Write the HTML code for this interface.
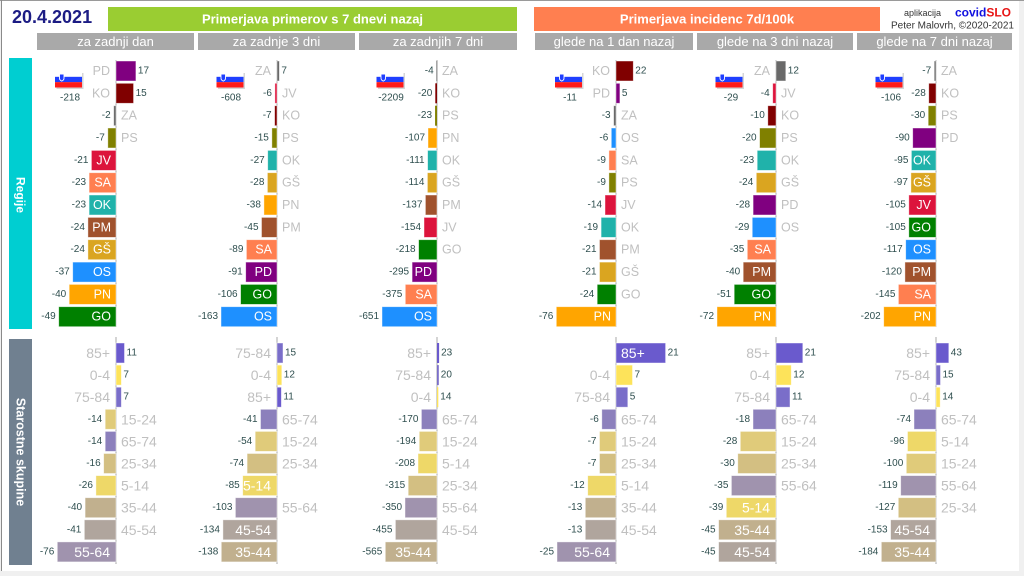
<!DOCTYPE html>
<html><head><meta charset="utf-8"><style>
html,body{margin:0;padding:0;background:#fff;}
svg{display:block;}
text{font-family:"Liberation Sans",sans-serif;dominant-baseline:central;}
.g{font-size:12.5px;fill:#c0c0c0}
.w{font-size:12.5px;fill:#fff}
.ga{font-size:14px;fill:#c0c0c0}
.wa{font-size:14px;fill:#fff}
.v{font-size:10px;fill:#2f4f4f}
.e{text-anchor:end}
.m{text-anchor:middle}
.h{font-size:13px;fill:#fff}
rect.b{stroke:#fff;stroke-opacity:.55;stroke-width:.8}
.ax{stroke:#aaa;stroke-width:1}
</style></head><body>
<svg width="1024" height="576" viewBox="0 0 1024 576" xmlns="http://www.w3.org/2000/svg">
<defs>
<g id="fl">
<rect x="1.5" y="1.5" width="27" height="16" fill="#bbb" opacity=".6"/>
<rect width="27" height="5.4" fill="#fff"/>
<rect y="5.33" width="27" height="5.34" fill="#1f3fff"/>
<rect y="10.67" width="27" height="5.33" fill="#ff1a1a"/>
<path d="M4.5 2.5h4.5v4.3q0 1.9-2.25 2.8q-2.25-0.9-2.25-2.8z" fill="#1f3fff" stroke="#fff" stroke-width=".9"/>
</g>
</defs>
<!-- frame -->
<rect width="1024" height="576" fill="#f0f0f0"/>
<rect x="2" y="1" width="1017" height="570" fill="#fff"/>
<line x1="0" y1="0.5" x2="1024" y2="0.5" stroke="#9a9a9a"/>
<line x1="1.5" y1="0" x2="1.5" y2="571" stroke="#8a8a8a"/>

<!-- header -->
<text x="12" y="17" style="font-size:18px;font-weight:bold;fill:#1c1c84">20.4.2021</text>
<rect x="108" y="7" width="409" height="24" fill="#9acd32"/>
<text class="h m" x="312.5" y="19" style="font-weight:bold">Primerjava primerov s 7 dnevi nazaj</text>
<rect x="534" y="7" width="346" height="24" fill="#ff7f50"/>
<text class="h m" x="707" y="19" style="font-weight:bold">Primerjava incidenc 7d/100k</text>
<text x="941" y="13" class="e" style="font-size:9px;fill:#333">aplikacija</text>
<text x="955" y="12.5" style="font-size:12px;font-weight:bold"><tspan fill="#1010e0">covid</tspan><tspan fill="#e81515">SLO</tspan></text>
<text x="1014" y="26" class="e" style="font-size:10px;fill:#333">Peter Malovrh, ©2020-2021</text>

<rect x="37" y="33" width="157" height="17" fill="#a9a9a9"/>
<text class="h m" x="115.5" y="41.5">za zadnji dan</text>
<rect x="198" y="33" width="157" height="17" fill="#a9a9a9"/>
<text class="h m" x="276.5" y="41.5">za zadnje 3 dni</text>
<rect x="359" y="33" width="158" height="17" fill="#a9a9a9"/>
<text class="h m" x="438" y="41.5">za zadnjih 7 dni</text>
<rect x="535" y="33" width="158" height="17" fill="#a9a9a9"/>
<text class="h m" x="614" y="41.5">glede na 1 dan nazaj</text>
<rect x="697" y="33" width="156" height="17" fill="#a9a9a9"/>
<text class="h m" x="775" y="41.5">glede na 3 dni nazaj</text>
<rect x="857" y="33" width="155" height="17" fill="#a9a9a9"/>
<text class="h m" x="934.5" y="41.5">glede na 7 dni nazaj</text>

<!-- side labels -->
<rect x="9" y="58" width="23" height="271" fill="#00ced1"/>
<text class="m" transform="translate(20.5,195) rotate(90)" style="font-size:12px;font-weight:bold;fill:#fff">Regije</text>
<rect x="9" y="339" width="23" height="226" fill="#708090"/>
<text class="m" transform="translate(20.5,452) rotate(90)" style="font-size:12.5px;font-weight:bold;fill:#fff">Starostne skupine</text>

<!-- axes -->
<line class="ax" x1="116" y1="60" x2="116" y2="327"/>
<line class="ax" x1="277" y1="60" x2="277" y2="327"/>
<line class="ax" x1="437" y1="60" x2="437" y2="327"/>
<line class="ax" x1="616" y1="60" x2="616" y2="327"/>
<line class="ax" x1="776" y1="60" x2="776" y2="327"/>
<line class="ax" x1="936" y1="60" x2="936" y2="327"/>
<line class="ax" x1="116" y1="337" x2="116" y2="564"/>
<line class="ax" x1="277" y1="337" x2="277" y2="564"/>
<line class="ax" x1="437" y1="337" x2="437" y2="564"/>
<line class="ax" x1="616" y1="337" x2="616" y2="564"/>
<line class="ax" x1="776" y1="337" x2="776" y2="564"/>
<line class="ax" x1="936" y1="337" x2="936" y2="564"/>

<!-- flags -->
<use href="#fl" x="55" y="71.5"/><text class="v m" x="70" y="98">-218</text>
<use href="#fl" x="216.5" y="71.5"/><text class="v m" x="231" y="98">-608</text>
<use href="#fl" x="376.5" y="71.5"/><text class="v m" x="391" y="98">-2209</text>
<use href="#fl" x="555" y="71.5"/><text class="v m" x="570" y="98">-11</text>
<use href="#fl" x="715.5" y="71.5"/><text class="v m" x="731" y="98">-29</text>
<use href="#fl" x="875.5" y="71.5"/><text class="v m" x="891" y="98">-106</text>

<!-- P1 regions -->
<rect class="b" x="116" y="61" width="19.9" height="20" fill="#800080"/><text class="g e" x="110" y="71">PD</text><text class="v" x="137.9" y="71">17</text>
<rect class="b" x="116" y="83.3" width="17.55" height="20" fill="#800000"/><text class="g e" x="110" y="93.3">KO</text><text class="v" x="135.6" y="93.3">15</text>
<rect class="b" x="113.66" y="105.7" width="2.34" height="20" fill="#696969"/><text class="g" x="121" y="115.7">ZA</text><text class="v e" x="110.7" y="115.7">-2</text>
<rect class="b" x="107.8" y="128" width="8.2" height="20" fill="#808000"/><text class="g" x="121" y="138">PS</text><text class="v e" x="104.8" y="138">-7</text>
<rect class="b" x="91.4" y="150.4" width="24.6" height="20" fill="#dc143c"/><text class="w e" x="111" y="160.4">JV</text><text class="v e" x="88.4" y="160.4">-21</text>
<rect class="b" x="89.1" y="172.7" width="26.9" height="20" fill="#ff7f50"/><text class="w e" x="111" y="182.7">SA</text><text class="v e" x="86.1" y="182.7">-23</text>
<rect class="b" x="89.1" y="195" width="26.9" height="20" fill="#20b2aa"/><text class="w e" x="111" y="205">OK</text><text class="v e" x="86.1" y="205">-23</text>
<rect class="b" x="87.9" y="217.4" width="28.1" height="20" fill="#a0522d"/><text class="w e" x="111" y="227.4">PM</text><text class="v e" x="84.9" y="227.4">-24</text>
<rect class="b" x="87.9" y="239.7" width="28.1" height="20" fill="#daa520"/><text class="w e" x="111" y="249.7">GŠ</text><text class="v e" x="84.9" y="249.7">-24</text>
<rect class="b" x="72.7" y="262.1" width="43.3" height="20" fill="#1e90ff"/><text class="w e" x="111" y="272.1">OS</text><text class="v e" x="69.7" y="272.1">-37</text>
<rect class="b" x="69.2" y="284.4" width="46.8" height="20" fill="#ffa500"/><text class="w e" x="111" y="294.4">PN</text><text class="v e" x="66.2" y="294.4">-40</text>
<rect class="b" x="58.7" y="306.7" width="57.3" height="20" fill="#008000"/><text class="w e" x="111" y="316.7">GO</text><text class="v e" x="55.7" y="316.7">-49</text>

<!-- P2 regions -->
<rect class="b" x="277" y="61" width="2.4" height="20" fill="#696969"/><text class="g e" x="271" y="71">ZA</text><text class="v" x="281.4" y="71">7</text>
<rect class="b" x="274.9" y="83.3" width="2.1" height="20" fill="#dc143c"/><text class="g" x="282" y="93.3">JV</text><text class="v e" x="271.9" y="93.3">-6</text>
<rect class="b" x="274.6" y="105.7" width="2.4" height="20" fill="#800000"/><text class="g" x="282" y="115.7">KO</text><text class="v e" x="271.6" y="115.7">-7</text>
<rect class="b" x="271.85" y="128" width="5.15" height="20" fill="#808000"/><text class="g" x="282" y="138">PS</text><text class="v e" x="268.85" y="138">-15</text>
<rect class="b" x="267.7" y="150.4" width="9.3" height="20" fill="#20b2aa"/><text class="g" x="282" y="160.4">OK</text><text class="v e" x="264.7" y="160.4">-27</text>
<rect class="b" x="267.4" y="172.7" width="9.6" height="20" fill="#daa520"/><text class="g" x="282" y="182.7">GŠ</text><text class="v e" x="264.4" y="182.7">-28</text>
<rect class="b" x="263.9" y="195" width="13.1" height="20" fill="#ffa500"/><text class="g" x="282" y="205">PN</text><text class="v e" x="260.9" y="205">-38</text>
<rect class="b" x="261.5" y="217.4" width="15.5" height="20" fill="#a0522d"/><text class="g" x="282" y="227.4">PM</text><text class="v e" x="258.5" y="227.4">-45</text>
<rect class="b" x="246.4" y="239.7" width="30.6" height="20" fill="#ff7f50"/><text class="w e" x="272" y="249.7">SA</text><text class="v e" x="243.4" y="249.7">-89</text>
<rect class="b" x="245.7" y="262.1" width="31.3" height="20" fill="#800080"/><text class="w e" x="272" y="272.1">PD</text><text class="v e" x="242.7" y="272.1">-91</text>
<rect class="b" x="240.6" y="284.4" width="36.4" height="20" fill="#008000"/><text class="w e" x="272" y="294.4">GO</text><text class="v e" x="237.6" y="294.4">-106</text>
<rect class="b" x="221" y="306.7" width="56" height="20" fill="#1e90ff"/><text class="w e" x="272" y="316.7">OS</text><text class="v e" x="218" y="316.7">-163</text>

<!-- P3 regions -->
<rect x="436.4" y="61" width="0.8" height="20" fill="#696969"/><text class="g" x="442" y="71">ZA</text><text class="v e" x="433.7" y="71">-4</text>
<rect x="435.3" y="83.3" width="1.7" height="20" fill="#800000"/><text class="g" x="442" y="93.3">KO</text><text class="v e" x="432.3" y="93.3">-20</text>
<rect x="435.06" y="105.7" width="1.94" height="20" fill="#808000"/><text class="g" x="442" y="115.7">PS</text><text class="v e" x="432" y="115.7">-23</text>
<rect class="b" x="428" y="128" width="9" height="20" fill="#ffa500"/><text class="g" x="442" y="138">PN</text><text class="v e" x="425" y="138">-107</text>
<rect class="b" x="427.6" y="150.4" width="9.4" height="20" fill="#20b2aa"/><text class="g" x="442" y="160.4">OK</text><text class="v e" x="424.6" y="160.4">-111</text>
<rect class="b" x="427.4" y="172.7" width="9.6" height="20" fill="#daa520"/><text class="g" x="442" y="182.7">GŠ</text><text class="v e" x="424.4" y="182.7">-114</text>
<rect class="b" x="425.4" y="195" width="11.6" height="20" fill="#a0522d"/><text class="g" x="442" y="205">PM</text><text class="v e" x="422.4" y="205">-137</text>
<rect class="b" x="424" y="217.4" width="13" height="20" fill="#dc143c"/><text class="g" x="442" y="227.4">JV</text><text class="v e" x="421" y="227.4">-154</text>
<rect class="b" x="418.6" y="239.7" width="18.4" height="20" fill="#008000"/><text class="g" x="442" y="249.7">GO</text><text class="v e" x="415.6" y="249.7">-218</text>
<rect class="b" x="412.1" y="262.1" width="24.9" height="20" fill="#800080"/><text class="w e" x="432" y="272.1">PD</text><text class="v e" x="409.1" y="272.1">-295</text>
<rect class="b" x="405.3" y="284.4" width="31.7" height="20" fill="#ff7f50"/><text class="w e" x="432" y="294.4">SA</text><text class="v e" x="402.3" y="294.4">-375</text>
<rect class="b" x="382" y="306.7" width="55" height="20" fill="#1e90ff"/><text class="w e" x="432" y="316.7">OS</text><text class="v e" x="379" y="316.7">-651</text>

<!-- P4 regions -->
<rect class="b" x="616" y="61" width="17.3" height="20" fill="#800000"/><text class="g e" x="610" y="71">KO</text><text class="v" x="635.3" y="71">22</text>
<rect class="b" x="616" y="83.3" width="3.9" height="20" fill="#800080"/><text class="g e" x="610" y="93.3">PD</text><text class="v" x="621.9" y="93.3">5</text>
<rect class="b" x="613.6" y="105.7" width="2.4" height="20" fill="#696969"/><text class="g" x="621" y="115.7">ZA</text><text class="v e" x="610.6" y="115.7">-3</text>
<rect class="b" x="611.3" y="128" width="4.7" height="20" fill="#1e90ff"/><text class="g" x="621" y="138">OS</text><text class="v e" x="608.3" y="138">-6</text>
<rect class="b" x="608.9" y="150.4" width="7.1" height="20" fill="#ff7f50"/><text class="g" x="621" y="160.4">SA</text><text class="v e" x="605.9" y="160.4">-9</text>
<rect class="b" x="608.9" y="172.7" width="7.1" height="20" fill="#808000"/><text class="g" x="621" y="182.7">PS</text><text class="v e" x="605.9" y="182.7">-9</text>
<rect class="b" x="605" y="195" width="11" height="20" fill="#dc143c"/><text class="g" x="621" y="205">JV</text><text class="v e" x="602" y="205">-14</text>
<rect class="b" x="601.1" y="217.4" width="14.9" height="20" fill="#20b2aa"/><text class="g" x="621" y="227.4">OK</text><text class="v e" x="598.1" y="227.4">-19</text>
<rect class="b" x="599.5" y="239.7" width="16.5" height="20" fill="#a0522d"/><text class="g" x="621" y="249.7">PM</text><text class="v e" x="596.5" y="249.7">-21</text>
<rect class="b" x="599.5" y="262.1" width="16.5" height="20" fill="#daa520"/><text class="g" x="621" y="272.1">GŠ</text><text class="v e" x="596.5" y="272.1">-21</text>
<rect class="b" x="597.2" y="284.4" width="18.8" height="20" fill="#008000"/><text class="g" x="621" y="294.4">GO</text><text class="v e" x="594.2" y="294.4">-24</text>
<rect class="b" x="556.3" y="306.7" width="59.7" height="20" fill="#ffa500"/><text class="w e" x="611" y="316.7">PN</text><text class="v e" x="553.3" y="316.7">-76</text>

<!-- P5 regions -->
<rect class="b" x="776" y="61" width="9.8" height="20" fill="#696969"/><text class="g e" x="770" y="71">ZA</text><text class="v" x="787.8" y="71">12</text>
<rect class="b" x="772.7" y="83.3" width="3.3" height="20" fill="#dc143c"/><text class="g" x="781" y="93.3">JV</text><text class="v e" x="769.7" y="93.3">-4</text>
<rect class="b" x="767.8" y="105.7" width="8.2" height="20" fill="#800000"/><text class="g" x="781" y="115.7">KO</text><text class="v e" x="764.8" y="115.7">-10</text>
<rect class="b" x="759.6" y="128" width="16.4" height="20" fill="#808000"/><text class="g" x="781" y="138">PS</text><text class="v e" x="756.6" y="138">-20</text>
<rect class="b" x="757.2" y="150.4" width="18.8" height="20" fill="#20b2aa"/><text class="g" x="781" y="160.4">OK</text><text class="v e" x="754.2" y="160.4">-23</text>
<rect class="b" x="756.3" y="172.7" width="19.7" height="20" fill="#daa520"/><text class="g" x="781" y="182.7">GŠ</text><text class="v e" x="753.3" y="182.7">-24</text>
<rect class="b" x="753.1" y="195" width="22.9" height="20" fill="#800080"/><text class="g" x="781" y="205">PD</text><text class="v e" x="750.1" y="205">-28</text>
<rect class="b" x="752.25" y="217.4" width="23.75" height="20" fill="#1e90ff"/><text class="g" x="781" y="227.4">OS</text><text class="v e" x="749.25" y="227.4">-29</text>
<rect class="b" x="747.3" y="239.7" width="28.7" height="20" fill="#ff7f50"/><text class="w e" x="771" y="249.7">SA</text><text class="v e" x="744.3" y="249.7">-35</text>
<rect class="b" x="743.2" y="262.1" width="32.8" height="20" fill="#a0522d"/><text class="w e" x="771" y="272.1">PM</text><text class="v e" x="740.2" y="272.1">-40</text>
<rect class="b" x="734.2" y="284.4" width="41.8" height="20" fill="#008000"/><text class="w e" x="771" y="294.4">GO</text><text class="v e" x="731.2" y="294.4">-51</text>
<rect class="b" x="717" y="306.7" width="59" height="20" fill="#ffa500"/><text class="w e" x="771" y="316.7">PN</text><text class="v e" x="714" y="316.7">-72</text>

<!-- P6 regions -->
<rect class="b" x="934.2" y="61" width="1.8" height="20" fill="#696969"/><text class="g" x="941" y="71">ZA</text><text class="v e" x="931.2" y="71">-7</text>
<rect class="b" x="928.75" y="83.3" width="7.25" height="20" fill="#800000"/><text class="g" x="941" y="93.3">KO</text><text class="v e" x="925.75" y="93.3">-28</text>
<rect class="b" x="928.2" y="105.7" width="7.8" height="20" fill="#808000"/><text class="g" x="941" y="115.7">PS</text><text class="v e" x="925.2" y="115.7">-30</text>
<rect class="b" x="912.7" y="128" width="23.3" height="20" fill="#800080"/><text class="g" x="941" y="138">PD</text><text class="v e" x="909.7" y="138">-90</text>
<rect class="b" x="911.4" y="150.4" width="24.6" height="20" fill="#20b2aa"/><text class="w e" x="931" y="160.4">OK</text><text class="v e" x="908.4" y="160.4">-95</text>
<rect class="b" x="910.9" y="172.7" width="25.1" height="20" fill="#daa520"/><text class="w e" x="931" y="182.7">GŠ</text><text class="v e" x="907.9" y="182.7">-97</text>
<rect class="b" x="908.8" y="195" width="27.2" height="20" fill="#dc143c"/><text class="w e" x="931" y="205">JV</text><text class="v e" x="905.8" y="205">-105</text>
<rect class="b" x="908.8" y="217.4" width="27.2" height="20" fill="#008000"/><text class="w e" x="931" y="227.4">GO</text><text class="v e" x="905.8" y="227.4">-105</text>
<rect class="b" x="905.7" y="239.7" width="30.3" height="20" fill="#1e90ff"/><text class="w e" x="931" y="249.7">OS</text><text class="v e" x="902.7" y="249.7">-117</text>
<rect class="b" x="904.9" y="262.1" width="31.1" height="20" fill="#a0522d"/><text class="w e" x="931" y="272.1">PM</text><text class="v e" x="901.9" y="272.1">-120</text>
<rect class="b" x="898.4" y="284.4" width="37.6" height="20" fill="#ff7f50"/><text class="w e" x="931" y="294.4">SA</text><text class="v e" x="895.4" y="294.4">-145</text>
<rect class="b" x="883.7" y="306.7" width="52.3" height="20" fill="#ffa500"/><text class="w e" x="931" y="316.7">PN</text><text class="v e" x="880.7" y="316.7">-202</text>

<!-- A1 ages -->
<rect class="b" x="116" y="343" width="8.5" height="20" fill="#6a5acd"/><text class="ga e" x="110" y="353">85+</text><text class="v" x="126.5" y="353">11</text>
<rect class="b" x="116" y="365.1" width="5.4" height="20" fill="#fde35a"/><text class="ga e" x="110" y="375.1">0-4</text><text class="v" x="123.4" y="375.1">7</text>
<rect class="b" x="116" y="387.2" width="5.4" height="20" fill="#7a6ec9"/><text class="ga e" x="110" y="397.2">75-84</text><text class="v" x="123.4" y="397.2">7</text>
<rect class="b" x="105.2" y="409.3" width="10.8" height="20" fill="#e0cb7a"/><text class="ga" x="121" y="419.3">15-24</text><text class="v e" x="102.2" y="419.3">-14</text>
<rect class="b" x="105.2" y="431.4" width="10.8" height="20" fill="#8c80bc"/><text class="ga" x="121" y="441.4">65-74</text><text class="v e" x="102.2" y="441.4">-14</text>
<rect class="b" x="103.65" y="453.5" width="12.35" height="20" fill="#d3bf82"/><text class="ga" x="121" y="463.5">25-34</text><text class="v e" x="100.65" y="463.5">-16</text>
<rect class="b" x="95.9" y="475.6" width="20.1" height="20" fill="#eed868"/><text class="ga" x="121" y="485.6">5-14</text><text class="v e" x="92.9" y="485.6">-26</text>
<rect class="b" x="85.1" y="497.7" width="30.9" height="20" fill="#c1b08e"/><text class="ga" x="121" y="507.7">35-44</text><text class="v e" x="82.1" y="507.7">-40</text>
<rect class="b" x="84.35" y="519.8" width="31.65" height="20" fill="#b0a59d"/><text class="ga" x="121" y="529.8">45-54</text><text class="v e" x="81.35" y="529.8">-41</text>
<rect class="b" x="57.3" y="541.9" width="58.7" height="20" fill="#a093ae"/><text class="wa e" x="110" y="551.9">55-64</text><text class="v e" x="54.3" y="551.9">-76</text>

<!-- A2 ages -->
<rect class="b" x="277" y="343" width="6" height="20" fill="#7a6ec9"/><text class="ga e" x="271" y="353">75-84</text><text class="v" x="285" y="353">15</text>
<rect class="b" x="277" y="365.1" width="4.8" height="20" fill="#fde35a"/><text class="ga e" x="271" y="375.1">0-4</text><text class="v" x="283.8" y="375.1">12</text>
<rect class="b" x="277" y="387.2" width="4.4" height="20" fill="#6a5acd"/><text class="ga e" x="271" y="397.2">85+</text><text class="v" x="283.4" y="397.2">11</text>
<rect class="b" x="260.5" y="409.3" width="16.5" height="20" fill="#8c80bc"/><text class="ga" x="282" y="419.3">65-74</text><text class="v e" x="257.5" y="419.3">-41</text>
<rect class="b" x="255.2" y="431.4" width="21.8" height="20" fill="#e0cb7a"/><text class="ga" x="282" y="441.4">15-24</text><text class="v e" x="252.2" y="441.4">-54</text>
<rect class="b" x="247.1" y="453.5" width="29.9" height="20" fill="#d3bf82"/><text class="ga" x="282" y="463.5">25-34</text><text class="v e" x="244.1" y="463.5">-74</text>
<rect class="b" x="242.7" y="475.6" width="34.3" height="20" fill="#eed868"/><text class="wa e" x="271" y="485.6">5-14</text><text class="v e" x="239.7" y="485.6">-85</text>
<rect class="b" x="235.4" y="497.7" width="41.6" height="20" fill="#a093ae"/><text class="ga" x="282" y="507.7">55-64</text><text class="v e" x="232.4" y="507.7">-103</text>
<rect class="b" x="222.9" y="519.8" width="54.1" height="20" fill="#b0a59d"/><text class="wa e" x="271" y="529.8">45-54</text><text class="v e" x="219.9" y="529.8">-134</text>
<rect class="b" x="221.3" y="541.9" width="55.7" height="20" fill="#c1b08e"/><text class="wa e" x="271" y="551.9">35-44</text><text class="v e" x="218.3" y="551.9">-138</text>

<!-- A3 ages -->
<rect x="437" y="343" width="2.1" height="20" fill="#6a5acd"/><text class="ga e" x="431" y="353">85+</text><text class="v" x="441.1" y="353">23</text>
<rect x="437" y="365.1" width="1.8" height="20" fill="#7a6ec9"/><text class="ga e" x="431" y="375.1">75-84</text><text class="v" x="440.8" y="375.1">20</text>
<rect x="437" y="387.2" width="1.3" height="20" fill="#fde35a"/><text class="ga e" x="431" y="397.2">0-4</text><text class="v" x="440.3" y="397.2">14</text>
<rect class="b" x="421.4" y="409.3" width="15.6" height="20" fill="#8c80bc"/><text class="ga" x="442" y="419.3">65-74</text><text class="v e" x="418.4" y="419.3">-170</text>
<rect class="b" x="419.25" y="431.4" width="17.75" height="20" fill="#e0cb7a"/><text class="ga" x="442" y="441.4">15-24</text><text class="v e" x="416.25" y="441.4">-194</text>
<rect class="b" x="418" y="453.5" width="19" height="20" fill="#eed868"/><text class="ga" x="442" y="463.5">5-14</text><text class="v e" x="415" y="463.5">-208</text>
<rect class="b" x="408.2" y="475.6" width="28.8" height="20" fill="#d3bf82"/><text class="ga" x="442" y="485.6">25-34</text><text class="v e" x="405.2" y="485.6">-315</text>
<rect class="b" x="405" y="497.7" width="32" height="20" fill="#a093ae"/><text class="ga" x="442" y="507.7">55-64</text><text class="v e" x="402" y="507.7">-350</text>
<rect class="b" x="395.4" y="519.8" width="41.6" height="20" fill="#b0a59d"/><text class="ga" x="442" y="529.8">45-54</text><text class="v e" x="392.4" y="529.8">-455</text>
<rect class="b" x="385.3" y="541.9" width="51.7" height="20" fill="#c1b08e"/><text class="wa e" x="431" y="551.9">35-44</text><text class="v e" x="382.3" y="551.9">-565</text>

<!-- A4 ages -->
<rect class="b" x="616" y="343" width="49.6" height="20" fill="#6a5acd"/><text class="wa" x="621" y="353">85+</text><text class="v" x="667.6" y="353">21</text>
<rect class="b" x="616" y="365.1" width="16.5" height="20" fill="#fde35a"/><text class="ga e" x="610" y="375.1">0-4</text><text class="v" x="634.5" y="375.1">7</text>
<rect class="b" x="616" y="387.2" width="11.8" height="20" fill="#7a6ec9"/><text class="ga e" x="610" y="397.2">75-84</text><text class="v" x="629.8" y="397.2">5</text>
<rect class="b" x="601.8" y="409.3" width="14.2" height="20" fill="#8c80bc"/><text class="ga" x="621" y="419.3">65-74</text><text class="v e" x="598.8" y="419.3">-6</text>
<rect class="b" x="599.5" y="431.4" width="16.5" height="20" fill="#e0cb7a"/><text class="ga" x="621" y="441.4">15-24</text><text class="v e" x="596.5" y="441.4">-7</text>
<rect class="b" x="599.5" y="453.5" width="16.5" height="20" fill="#d3bf82"/><text class="ga" x="621" y="463.5">25-34</text><text class="v e" x="596.5" y="463.5">-7</text>
<rect class="b" x="587.7" y="475.6" width="28.3" height="20" fill="#eed868"/><text class="ga" x="621" y="485.6">5-14</text><text class="v e" x="584.7" y="485.6">-12</text>
<rect class="b" x="585.3" y="497.7" width="30.7" height="20" fill="#c1b08e"/><text class="ga" x="621" y="507.7">35-44</text><text class="v e" x="582.3" y="507.7">-13</text>
<rect class="b" x="585.3" y="519.8" width="30.7" height="20" fill="#b0a59d"/><text class="ga" x="621" y="529.8">45-54</text><text class="v e" x="582.3" y="529.8">-13</text>
<rect class="b" x="557" y="541.9" width="59" height="20" fill="#a093ae"/><text class="wa e" x="610" y="551.9">55-64</text><text class="v e" x="554" y="551.9">-25</text>

<!-- A5 ages -->
<rect class="b" x="776" y="343" width="26.8" height="20" fill="#6a5acd"/><text class="ga e" x="770" y="353">85+</text><text class="v" x="804.8" y="353">21</text>
<rect class="b" x="776" y="365.1" width="15.3" height="20" fill="#fde35a"/><text class="ga e" x="770" y="375.1">0-4</text><text class="v" x="793.3" y="375.1">12</text>
<rect class="b" x="776" y="387.2" width="14" height="20" fill="#7a6ec9"/><text class="ga e" x="770" y="397.2">75-84</text><text class="v" x="792" y="397.2">11</text>
<rect class="b" x="753" y="409.3" width="23" height="20" fill="#8c80bc"/><text class="ga" x="781" y="419.3">65-74</text><text class="v e" x="750" y="419.3">-18</text>
<rect class="b" x="740.3" y="431.4" width="35.7" height="20" fill="#e0cb7a"/><text class="ga" x="781" y="441.4">15-24</text><text class="v e" x="737.3" y="441.4">-28</text>
<rect class="b" x="737.75" y="453.5" width="38.25" height="20" fill="#d3bf82"/><text class="ga" x="781" y="463.5">25-34</text><text class="v e" x="734.75" y="463.5">-30</text>
<rect class="b" x="731.4" y="475.6" width="44.6" height="20" fill="#a093ae"/><text class="ga" x="781" y="485.6">55-64</text><text class="v e" x="728.4" y="485.6">-35</text>
<rect class="b" x="726.3" y="497.7" width="49.7" height="20" fill="#eed868"/><text class="wa e" x="770" y="507.7">5-14</text><text class="v e" x="723.3" y="507.7">-39</text>
<rect class="b" x="718.6" y="519.8" width="57.4" height="20" fill="#c1b08e"/><text class="wa e" x="770" y="529.8">35-44</text><text class="v e" x="715.6" y="529.8">-45</text>
<rect class="b" x="718.6" y="541.9" width="57.4" height="20" fill="#b0a59d"/><text class="wa e" x="770" y="551.9">45-54</text><text class="v e" x="715.6" y="551.9">-45</text>

<!-- A6 ages -->
<rect class="b" x="936" y="343" width="12.8" height="20" fill="#6a5acd"/><text class="ga e" x="930" y="353">85+</text><text class="v" x="950.8" y="353">43</text>
<rect class="b" x="936" y="365.1" width="4.5" height="20" fill="#7a6ec9"/><text class="ga e" x="930" y="375.1">75-84</text><text class="v" x="942.5" y="375.1">15</text>
<rect class="b" x="936" y="387.2" width="4.2" height="20" fill="#fde35a"/><text class="ga e" x="930" y="397.2">0-4</text><text class="v" x="942.2" y="397.2">14</text>
<rect class="b" x="914" y="409.3" width="22" height="20" fill="#8c80bc"/><text class="ga" x="941" y="419.3">65-74</text><text class="v e" x="911" y="419.3">-74</text>
<rect class="b" x="907.5" y="431.4" width="28.5" height="20" fill="#eed868"/><text class="ga" x="941" y="441.4">5-14</text><text class="v e" x="904.5" y="441.4">-96</text>
<rect class="b" x="906.3" y="453.5" width="29.7" height="20" fill="#e0cb7a"/><text class="ga" x="941" y="463.5">15-24</text><text class="v e" x="903.3" y="463.5">-100</text>
<rect class="b" x="900.7" y="475.6" width="35.3" height="20" fill="#a093ae"/><text class="ga" x="941" y="485.6">55-64</text><text class="v e" x="897.7" y="485.6">-119</text>
<rect class="b" x="898.3" y="497.7" width="37.7" height="20" fill="#d3bf82"/><text class="ga" x="941" y="507.7">25-34</text><text class="v e" x="895.3" y="507.7">-127</text>
<rect class="b" x="890.6" y="519.8" width="45.4" height="20" fill="#b0a59d"/><text class="wa e" x="930" y="529.8">45-54</text><text class="v e" x="887.6" y="529.8">-153</text>
<rect class="b" x="881.35" y="541.9" width="54.65" height="20" fill="#c1b08e"/><text class="wa e" x="930" y="551.9">35-44</text><text class="v e" x="878.35" y="551.9">-184</text>
</svg>
</body></html>
